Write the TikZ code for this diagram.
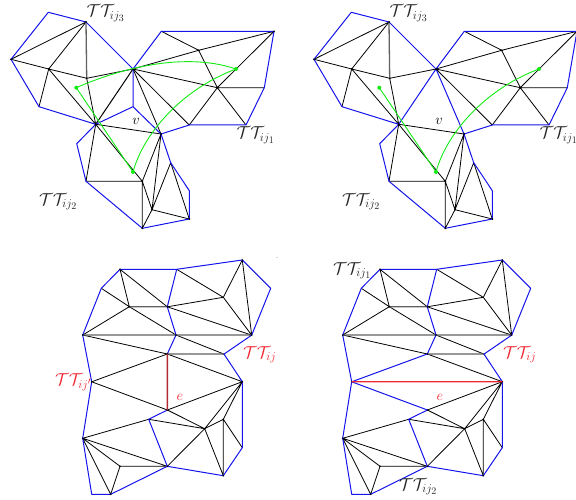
\documentclass[tikz,border=0pt]{standalone}
\definecolor{bluel}{RGB}{20,20,235}
\definecolor{greenl}{RGB}{20,235,20}
\definecolor{redl}{RGB}{240,40,50}
\definecolor{darkredl}{RGB}{175,45,50}
\tikzset{
  blk/.style={draw=black,line width=0.8pt,line join=round},
  hgray/.style={draw=black!62,line width=1.3pt},
  blu/.style={draw=bluel,line width=1pt,line join=round},
  grn/.style={draw=greenl,line width=0.9pt},
  gdot/.style={circle,fill=greenl,inner sep=0pt,minimum size=4pt},
  lab/.style={anchor=base west,inner sep=0pt,font=\LARGE,text=black!85},
  rlab/.style={lab,text=redl},
  sm/.style={anchor=base,inner sep=0pt,font=\Large},
  fixedge/.style={draw=darkredl,line width=1.6pt},
  flipedge/.style={draw=redl,line width=1.2pt},
}
\newcommand{\topcoords}{
  \coordinate (a1) at (48.3,12.3); \coordinate (a2) at (86,22); \coordinate (a3) at (11,59.3);
  \coordinate (a4) at (48.7,69); \coordinate (a5) at (86.7,78.3); \coordinate (v0) at (133,69);
  \coordinate (a6) at (39,106.7); \coordinate (p) at (95.7,124.3);
  \coordinate (b1) at (161.3,31.3); \coordinate (b2) at (274,31.3); \coordinate (b3) at (198.7,50.3);
  \coordinate (b4) at (217.3,87.7); \coordinate (b5) at (264.3,87.7); \coordinate (b6) at (246,125);
  \coordinate (b7) at (189.3,125); \coordinate (c) at (133,106.7); \coordinate (d) at (161,134);
  \coordinate (e0) at (76.7,143.7); \coordinate (f) at (86,181.3); \coordinate (g) at (142.3,181.3);
  \coordinate (h) at (170.7,162.7); \coordinate (i0) at (189.3,190.7); \coordinate (j0) at (189.3,219);
  \coordinate (k) at (152,209.7); \coordinate (l) at (142.3,228.3);
  \coordinate (g1) at (76.3,87.7); \coordinate (g2) at (236,69); \coordinate (g3) at (133,172);
}
\newcommand{\topshared}{
  \draw[blk] (a3)--(a2) (a3)--(a4)--(a2) (a4)--(a5)--(v0) (a4)--(a6) (a4)--(p) (a5)--(p)
    (v0)--(b3)--(b2) (b3)--(b1) (b3)--(b4) (v0)--(b4)--(b2) (b4)--(b5) (b4)--(b7) (b4)--(b6)
    (v0)--(b7) (p)--(d) (p)--(f)--(g) (p)--(g) (d)--(g) (d)--(k) (g)--(k) (g)--(l) (k)--(l)
    (k)--(h)--(j0) (k)--(j0);
  \draw[hgray] (a2)--(a5);
  \draw[blu] (a3)--(a1)--(a2)--(v0)--(b1)--(b2)--(b5)--(b6)--(b7)--(d)--(h)--(i0)--(j0)--(l)--(f)--(e0)--(p)--(a6)--(a3);
  \foreach \n in {a2,a3,a4,a5,v0,p,b2,b3,b4,d,g,k,j0,l} \fill (\n) circle (1pt);
  \draw[grn] (g3)--(g1);
  \draw[grn] (g3) .. controls (143,135) and (180,90) .. (g2);
  \node[gdot] at (g1) {}; \node[gdot] at (g2) {}; \node[gdot] at (g3) {};
}
\newcommand{\botcoords}{
  \coordinate (q1) at (120,269.3); \coordinate (q2) at (176.7,269.3); \coordinate (q3) at (242.3,260);
  \coordinate (q4) at (270.7,288.3); \coordinate (q5) at (251.7,335.1); \coordinate (q6) at (224,354.1);
  \coordinate (q7) at (101.3,288.3); \coordinate (q8) at (82.7,335); \coordinate (q9) at (129.3,306.7);
  \coordinate (q10) at (167.3,306.8); \coordinate (q11) at (223.3,297.3); \coordinate (q12) at (176,335);
  \coordinate (q13) at (167.3,354);
  \coordinate (r1) at (91.7,381.8); \coordinate (r2) at (242.3,381.7); \coordinate (r3) at (167.4,410);
  \coordinate (r4) at (148.7,419.3); \coordinate (r5) at (204.7,428.7); \coordinate (r6) at (223.3,419.3);
  \coordinate (r7) at (242.3,447.7); \coordinate (r8) at (223.3,475.7); \coordinate (r9) at (167.3,466.3);
  \coordinate (r10) at (82.7,438.3); \coordinate (r11) at (120,466.3); \coordinate (r12) at (110.7,494.3);
  \coordinate (r13) at (91.7,494.3);
}
\newcommand{\botshared}{
  \draw[blk] (q1)--(q9) (q1)--(q10) (q7)--(q9)--(q12)--(q6) (q9)--(q8) (q10)--(q11)--(q2) (q3)--(q11)--(q5)
    (q3)--(q5) (q10)--(q5) (q8)--(q13)--(r2)--(r3) (r3)--(r5)--(r4) (r5)--(r2) (r5)--(r6)--(r2)
    (r6)--(r8) (r6)--(r7) (r5)--(r8) (r5)--(r9) (r4)--(r10)--(r9) (r10)--(r11)--(r9) (r10)--(r12)--(r11);
  \draw[hgray] (q8)--(q5) (q9)--(q10) (q13)--(q6);
  \draw[blu] (q8)--(q7)--(q1)--(q2)--(q3)--(q4)--(q5)--(q6)--(r2)--(r7)--(r8)--(r9)--(r12)--(r13)--(r10)--(r1)--(q8);
  \draw[blu] (q2)--(q10)--(q12)--(q13) (r3)--(r4)--(r9);
  \foreach \n in {q1,q3,q5,q8,q9,q10,q12,q13,r1,r2,r3,r5,r6,r8,r9,r10,r11,r12} \fill (\n) circle (0.9pt);
}
\begin{document}
\begin{tikzpicture}[x=1pt,y=-1pt]
\useasboundingbox (0,0) rectangle (576,500);
% top left
\begin{scope}
  \topcoords
  \draw[blk,line width=1pt] (v0)--(p);
  \draw[blk] (v0)--(d);
  \draw[blu] (v0)--(c)--(p) (c)--(d);
  \topshared
  \draw[grn] (g1) .. controls (112,72) and (180,50) .. (g2);
  \node[lab] (tl3) at (86.5,17) {$\mathcal{T}\mathcal{T}_{ij_3}$};
  \node[lab] (tl1) at (236.5,139) {$\mathcal{T}\mathcal{T}_{ij_1}$};
  \node[lab] (tl2) at (39,205) {$\mathcal{T}\mathcal{T}_{ij_2}$};
  \node[sm] (tlv) at (136,125) {$v$};
\end{scope}
% top right
\begin{scope}[xshift=303pt]
  \topcoords
  \draw[blu] (v0)--(p) (v0)--(d);
  \topshared
  \node[lab] (tr3) at (86.5,17) {$\mathcal{T}\mathcal{T}_{ij_3}$};
  \node[lab] (tr1) at (236.5,139) {$\mathcal{T}\mathcal{T}_{ij_1}$};
  \node[lab] (tr2) at (39,205) {$\mathcal{T}\mathcal{T}_{ij_2}$};
  \node[sm] (trv) at (136,125) {$v$};
\end{scope}
% bottom left
\begin{scope}
  \botcoords
  \botshared
  \draw[blk] (q13)--(r1)--(r3);
  \draw[fixedge] (q13)--(r3);
  \node[rlab] (bla) at (243,358) {$\mathcal{T}\mathcal{T}_{ij}$};
  \node[rlab] (blb) at (55,385) {$\mathcal{T}\mathcal{T}_{ij'}$};
  \node[sm,text=redl] (ble) at (180,400.5) {$e$};
  \fill[black!30] (277,257.5) circle (0.6pt);
\end{scope}
% bottom right
\begin{scope}[xshift=260pt]
  \botcoords
  \botshared
  \draw[blu] (q13)--(r1)--(r3);
  \draw[flipedge] (r1)--(r2);
  \node[lab] (brc) at (73,274) {$\mathcal{T}\mathcal{T}_{ij_1}$};
  \node[rlab] (bra) at (243,358) {$\mathcal{T}\mathcal{T}_{ij}$};
  \node[sm,text=redl] (bre) at (180,400.5) {$e$};
  \node[lab] (brd) at (139,490) {$\mathcal{T}\mathcal{T}_{ij_2}$};
\end{scope}
\end{tikzpicture}
\end{document}
